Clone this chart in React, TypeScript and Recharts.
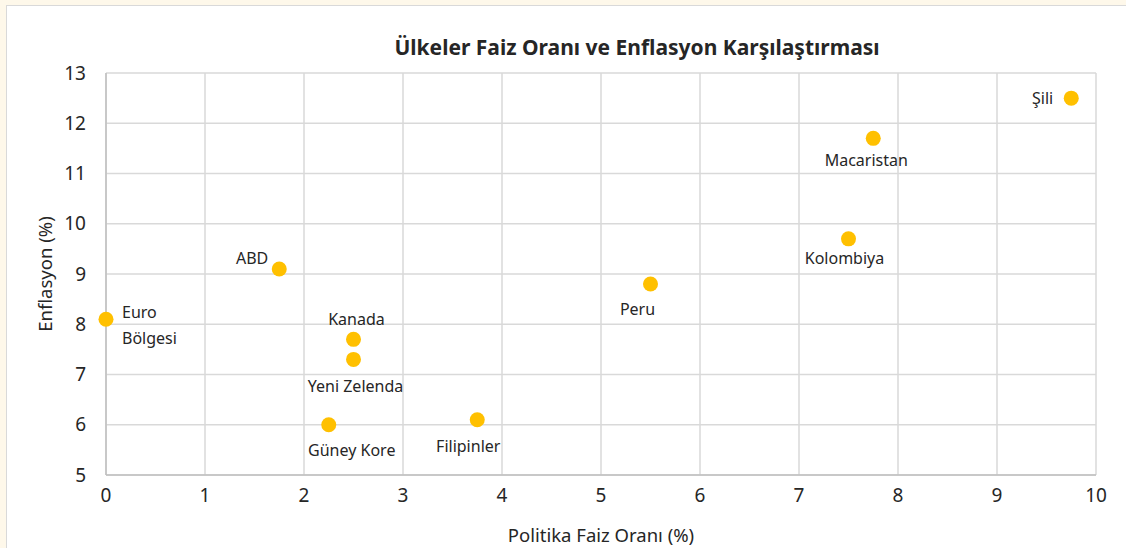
import React from "react";
import { ScatterChart, Scatter, XAxis, YAxis, CartesianGrid } from "recharts";

const countries = ["Euro Bölgesi", "ABD", "Kanada", "Yeni Zelenda", "Güney Kore", "Filipinler", "Peru", "Kolombiya", "Macaristan", "Şili"];
const policyRate = [0, 1.75, 2.5, 2.5, 2.25, 3.75, 5.5, 7.5, 7.75, 9.75];
const inflation = [8.1, 9.1, 7.7, 7.3, 6.0, 6.1, 8.8, 9.7, 11.7, 12.5];
const xTicks = [0, 1, 2, 3, 4, 5, 6, 7, 8, 9, 10];
const yTicks = [5, 6, 7, 8, 9, 10, 11, 12, 13];

const data = countries.map((name, i) => ({ name, x: policyRate[i], y: inflation[i] }));

// label placement (style only): dx, dy, anchor
const placement: Record<string, { dx: number; dy: number; anchor: "start" | "middle" | "end"; lines?: string[] }> = {
  "Euro Bölgesi": { dx: 16, dy: -7, anchor: "start", lines: ["Euro", "Bölgesi"] },
  ABD: { dx: -11, dy: -11, anchor: "end" },
  Kanada: { dx: 3, dy: -20, anchor: "middle" },
  "Yeni Zelenda": { dx: 2, dy: 27, anchor: "middle" },
  "Güney Kore": { dx: 23, dy: 25, anchor: "middle" },
  Filipinler: { dx: -9, dy: 26, anchor: "middle" },
  Peru: { dx: -13, dy: 25, anchor: "middle" },
  Kolombiya: { dx: -4, dy: 19, anchor: "middle" },
  Macaristan: { dx: -7, dy: 22, anchor: "middle" },
  "Şili": { dx: -18, dy: 0, anchor: "end" },
};

const FONT = "'Noto Sans', 'Open Sans', sans-serif";

const DotShape = (props: any) => {
  const { cx, cy, payload } = props;
  const p = placement[payload.name];
  const lines = p.lines || [payload.name];
  return (
    <g>
      <circle cx={cx} cy={cy} r={7.5} fill="#FFC000" />
      {lines.map((t, i) => (
        <text
          key={i}
          x={cx + p.dx}
          y={cy + p.dy + i * 26}
          textAnchor={p.anchor}
          dominantBaseline="central"
          fontSize={16}
          fontFamily={FONT}
          fill="#262626"
        >
          {t}
        </text>
      ))}
    </g>
  );
};

export default function App() {
  return (
    <div style={{ position: "fixed", left: 0, top: 0, width: 1126, height: 548, background: "#FEF8EA", overflow: "hidden" }}>
      <div style={{ position: "absolute", left: 6, top: 5, width: 1130, height: 560, background: "#fff", border: "1.5px solid #d9d9d9", boxSizing: "border-box" }} />
      <div style={{ position: "absolute", left: 0, top: 0 }}>
        <ScatterChart width={1126} height={548} margin={{ top: 73, right: 30, bottom: 33, left: 46 }}>
          <CartesianGrid stroke="#d9d9d9" strokeWidth={1.5} />
          <XAxis
            type="number"
            dataKey="x"
            domain={[0, 10]}
            ticks={xTicks}
            height={40}
            axisLine={{ stroke: "#bfbfbf", strokeWidth: 1.5 }}
            tickLine={false}
            tickSize={0}
            tickMargin={14}
            tick={{ fontSize: 19, fill: "#262626", fontFamily: FONT }}
            interval={0}
          />
          <YAxis
            type="number"
            dataKey="y"
            domain={[5, 13]}
            ticks={yTicks}
            width={60}
            axisLine={{ stroke: "#bfbfbf", strokeWidth: 1.5 }}
            tickLine={false}
            tickSize={0}
            tickMargin={20}
            tick={{ fontSize: 19, fill: "#262626", fontFamily: FONT }}
            interval={0}
          />
          <Scatter data={data} fill="#FFC000" shape={DotShape} isAnimationActive={false} />
        </ScatterChart>
      </div>
      <div style={{ position: "absolute", left: 0, width: 1274, top: 33, textAlign: "center", fontFamily: FONT, fontWeight: 700, fontSize: 21, color: "#262626", lineHeight: "28px" }}>
        Ülkeler Faiz Oranı ve Enflasyon Karşılaştırması
      </div>
      <div style={{ position: "absolute", left: 106, width: 990, top: 522, textAlign: "center", fontFamily: FONT, fontSize: 18.5, color: "#262626", lineHeight: "26px" }}>
        Politika Faiz Oranı (%)
      </div>
      <div style={{ position: "absolute", left: 45 - 100, top: 274 - 13, width: 200, height: 26, textAlign: "center", fontFamily: FONT, fontSize: 18.5, color: "#262626", lineHeight: "26px", transform: "rotate(-90deg)" }}>
        Enflasyon (%)
      </div>
    </div>
  );
}
